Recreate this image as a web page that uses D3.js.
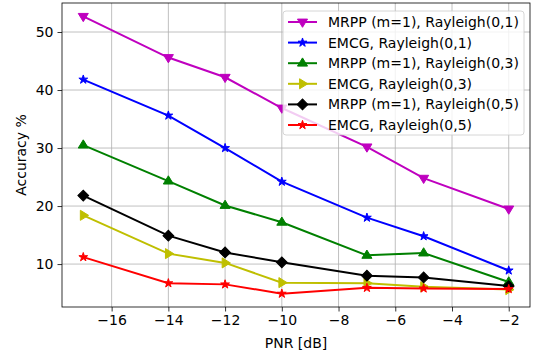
<!DOCTYPE html>
<html>
<head>
<meta charset="utf-8">
<script src="https://cdn.jsdelivr.net/npm/d3@7"></script>
<style>
  body { margin: 0; background: #fff; }
  svg { font-family: "DejaVu Sans", sans-serif; }
</style>
</head>
<body>
<div id="graph"></div>
<script>
// Data
var pnr = [-17, -14, -12, -10, -7, -5, -2]
var seriesNames = ["MRPP (m=1), Rayleigh(0,1)", "EMCG, Rayleigh(0,1)",
                   "MRPP (m=1), Rayleigh(0,3)", "EMCG, Rayleigh(0,3)",
                   "MRPP (m=1), Rayleigh(0,5)", "EMCG, Rayleigh(0,5)"]
var mrpp01 = [52.7, 45.6, 42.2, 36.9, 30.2, 24.8, 19.5]
var emcg01 = [41.8, 35.6, 30.0, 24.2, 18.0, 14.8, 8.9]
var mrpp03 = [30.5, 24.3, 20.1, 17.2, 11.5, 11.9, 6.9]
var emcg03 = [18.4, 11.8, 10.2, 6.8, 6.7, 6.1, 5.6]
var mrpp05 = [21.8, 14.9, 12.0, 10.3, 8.0, 7.7, 6.2]
var emcg05 = [11.2, 6.7, 6.5, 4.9, 5.9, 5.8, 5.7]
var xTicks = [-16, -14, -12, -10, -8, -6, -4, -2]
var yTicks = [10, 20, 30, 40, 50]

var colors = ["#bf00bf", "#0000ff", "#008000", "#bfbf00", "#000000", "#ff0000"]
var shapes = ["tridown", "star", "triup", "triright", "diamond", "star"]
var allSeries = [mrpp01, emcg01, mrpp03, emcg03, mrpp05, emcg05]

var W = 536, H = 356
var margin = {top: 3, right: 6, bottom: 49, left: 62},
    width = W - margin.left - margin.right,
    height = H - margin.top - margin.bottom

var svg = d3.select("#graph").append("svg")
    .attr("width", W).attr("height", H)

var g = svg.append("g")
    .attr("transform", "translate(" + margin.left + "," + margin.top + ")")

var x = d3.scaleLinear().domain([-17.75, -1.25]).range([0, width])
var y = d3.scaleLinear().domain([2.6, 55]).range([height, 0])

var fmt = function(d) { return String(d).replace("-", "\u2212") }

// grid
g.append("g").selectAll("line").data(xTicks).enter().append("line")
    .attr("x1", d => x(d)).attr("x2", d => x(d))
    .attr("y1", 0).attr("y2", height)
    .attr("stroke", "#b0b0b0").attr("stroke-width", 0.8)
g.append("g").selectAll("line").data(yTicks).enter().append("line")
    .attr("y1", d => y(d)).attr("y2", d => y(d))
    .attr("x1", 0).attr("x2", width)
    .attr("stroke", "#b0b0b0").attr("stroke-width", 0.8)

// axes
var xAxis = g.append("g").attr("transform", "translate(0," + height + ")")
    .call(d3.axisBottom(x).tickValues(xTicks).tickFormat(fmt).tickSize(4.5).tickPadding(4))
var yAxis = g.append("g")
    .call(d3.axisLeft(y).tickValues(yTicks).tickSize(4.5).tickPadding(4))
;[xAxis, yAxis].forEach(function(a) {
    a.select(".domain").remove()
    a.selectAll("line").attr("stroke", "#000").attr("stroke-width", 0.8)
    a.selectAll("text").attr("font-size", 14).attr("fill", "#000")
        .attr("font-family", "DejaVu Sans")
})

g.append("rect").attr("width", width).attr("height", height)
    .attr("fill", "none").attr("stroke", "#000").attr("stroke-width", 0.8)

// markers
function marker(sel, shape, color) {
    var p
    if (shape === "star") {
        p = sel.append("path").attr("d", d3.symbol(d3.symbolStar, 24)())
    } else if (shape === "diamond") {
        p = sel.append("path").attr("d", d3.symbol(d3.symbolSquare, 58)())
            .attr("transform", "rotate(45)")
    } else {
        var r = 5.3
        var tri = "M0," + (-r) + "L" + (r * 0.95) + "," + (r * 0.55) + "L" + (-r * 0.95) + "," + (r * 0.55) + "Z"
        var rot = {triup: 0, tridown: 180, triright: 90}[shape]
        p = sel.append("path").attr("d", tri).attr("transform", "rotate(" + rot + ")")
    }
    p.attr("fill", color).attr("stroke", color).attr("stroke-width", 1)
}

var line = d3.line().x((d, i) => x(pnr[i])).y(d => y(d))

allSeries.forEach(function(vals, k) {
    var sg = g.append("g")
    sg.append("path").datum(vals).attr("d", line)
        .attr("fill", "none").attr("stroke", colors[k]).attr("stroke-width", 2)
    vals.forEach(function(v, i) {
        var m = sg.append("g").attr("transform", "translate(" + x(pnr[i]) + "," + y(v) + ")")
        marker(m, shapes[k], colors[k])
    })
})

// legend
var lg = svg.append("g").attr("transform", "translate(283,11)")
lg.append("rect").attr("width", 241).attr("height", 124).attr("rx", 3)
    .attr("fill", "#fff").attr("fill-opacity", 0.8)
    .attr("stroke", "#cccccc").attr("stroke-width", 0.8)
seriesNames.forEach(function(name, k) {
    var yy = 11 + k * 20.6
    lg.append("line").attr("x1", 5).attr("x2", 34).attr("y1", yy).attr("y2", yy)
        .attr("stroke", colors[k]).attr("stroke-width", 2)
    var m = lg.append("g").attr("transform", "translate(19.5," + yy + ")")
    marker(m, shapes[k], colors[k])
    lg.append("text").attr("x", 45).attr("y", yy).attr("dy", "0.35em")
        .attr("font-size", 14).text(name)
})

// axis labels
svg.append("text").attr("x", margin.left + width / 2).attr("y", 348)
    .attr("text-anchor", "middle").attr("font-size", 14).text("PNR [dB]")
svg.append("text").attr("transform", "translate(26," + (margin.top + height / 2) + ") rotate(-90)")
    .attr("text-anchor", "middle").attr("font-size", 14).text("Accuracy %")
</script>
</body>
</html>
